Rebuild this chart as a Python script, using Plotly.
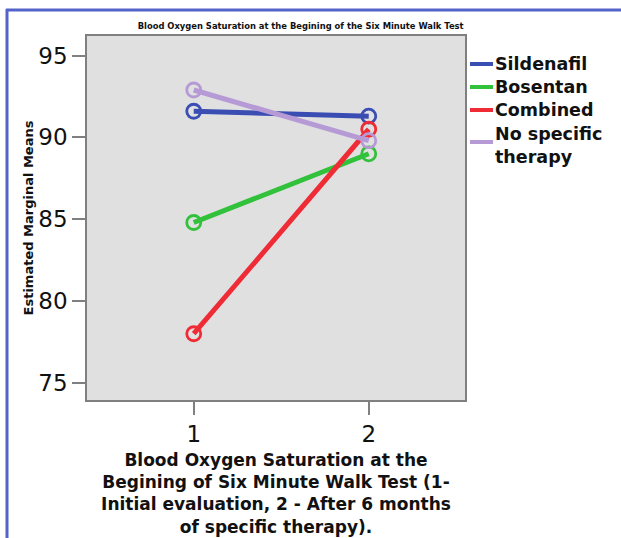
import plotly.graph_objects as go

time_points = [1, 2]
groups = ["Sildenafil", "Bosentan", "Combined", "No specific<br>therapy"]
sildenafil = [91.6, 91.3]
bosentan = [84.8, 89.0]
combined = [78.0, 90.5]
no_specific = [92.9, 89.8]
series = [sildenafil, bosentan, combined, no_specific]
colors = ["#3a4db3", "#31c13a", "#ef2b35", "#b69ad6"]
y_ticks = [75, 80, 85, 90, 95]

W, H = 621, 538
L, R, T, B = 87, 465, 36, 400
FONT = "DejaVu Sans, Verdana, sans-serif"

def px_x(p):
    return (p - L) / (R - L)

def px_y(p):
    return (B - p) / (B - T)

fig = go.Figure()
for name, vals, c in zip(groups, series, colors):
    fig.add_trace(go.Scatter(
        x=time_points, y=vals, mode="lines+markers", name=name,
        line=dict(color=c, width=5),
        marker=dict(symbol="circle-open", size=14, color=c, line=dict(width=2.8, color=c)),
        showlegend=False,
    ))

# legend drawn as text + short line keys
legend_text_y = [64, 87, 110, 145]
legend_line_y = [64, 87, 110, 142]
for name, c, ty, ly in zip(groups, colors, legend_text_y, legend_line_y):
    fig.add_annotation(xref="paper", yref="paper", x=px_x(493), y=px_y(ty),
                       xanchor="left", yanchor="middle", align="left",
                       text=name, showarrow=False,
                       font=dict(family=FONT, size=17.5, weight="bold", color="#111"))
    fig.add_shape(type="line", xref="paper", yref="paper",
                  x0=px_x(470), x1=px_x(493), y0=px_y(ly), y1=px_y(ly),
                  line=dict(color=c, width=4))

# outer frame edges
fig.add_shape(type="line", xref="paper", yref="paper",
              x0=px_x(7), x1=px_x(7), y0=px_y(9), y1=px_y(540),
              line=dict(color="#5463c9", width=3))
fig.add_shape(type="line", xref="paper", yref="paper",
              x0=px_x(6), x1=px_x(625), y0=px_y(10), y1=px_y(10),
              line=dict(color="#5463c9", width=3))

fig.update_layout(
    width=W, height=H,
    margin=dict(l=L, r=W - R, t=T, b=H - B, autoexpand=False),
    paper_bgcolor="white",
    plot_bgcolor="#e0e0e0",
    showlegend=False,
    font=dict(family=FONT, color="#111"),
    title=dict(text="Blood Oxygen Saturation at the Begining of the Six Minute Walk Test",
               x=px_x(270), xanchor="center", y=1 - 26 / H, yanchor="middle",
               font=dict(size=8.4, weight="bold")),
    xaxis=dict(range=[0.39, 2.55], tickvals=time_points, ticktext=["1", "2"],
               automargin=False,
               showgrid=False, zeroline=False, showline=True, mirror=True,
               linecolor="#808080", linewidth=1.5,
               ticks="outside", ticklen=13, tickcolor="#808080", tickwidth=1.5,
               tickfont=dict(size=23),
               title=dict(text="Blood Oxygen Saturation at the<br>Begining of Six Minute Walk Test (1-<br>Initial evaluation, 2 - After 6 months<br>of specific therapy).",
                          font=dict(size=17, weight="bold"), standoff=8)),
    yaxis=dict(range=[73.95, 96.2], tickvals=y_ticks,
               automargin=False,
               showgrid=False, zeroline=False, showline=True, mirror=True,
               linecolor="#808080", linewidth=1.5,
               ticks="outside", ticklen=13, tickcolor="#808080", tickwidth=1.5,
               tickfont=dict(size=23),
               title=dict(text="Estimated Marginal Means", font=dict(size=13, weight="bold"),
                          standoff=2)),
)

fig.write_html("out.html", config={"displayModeBar": False},
               post_script="document.body.style.margin='0';")
